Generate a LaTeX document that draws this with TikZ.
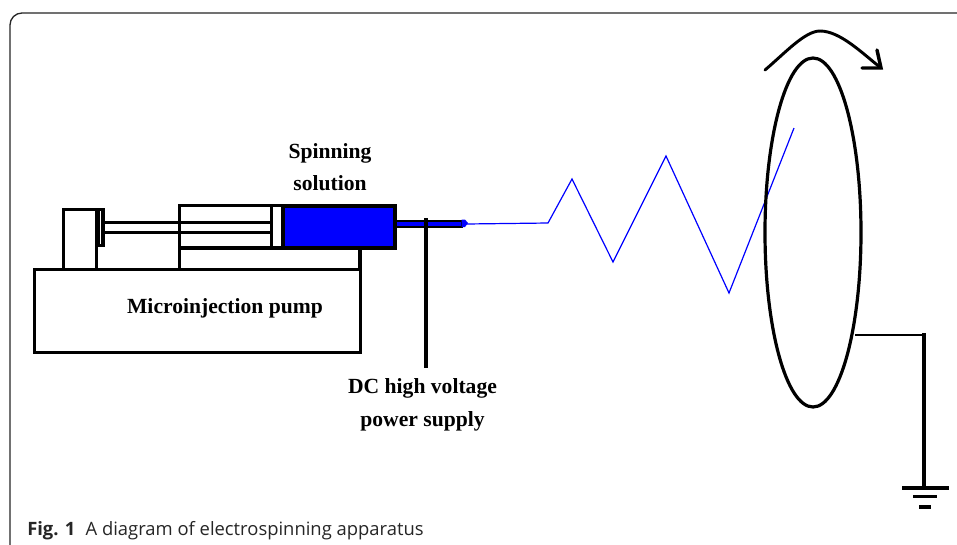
\documentclass[tikz,border=0pt]{standalone}
\usepackage{fontspec}
\setmainfont{Liberation Serif}
\newfontfamily\capfont{Open Sans}
\definecolor{pureblue}{RGB}{0,0,255}
\tikzset{
  px/.style={x=0.75pt,y=-0.75pt},
  part/.style={draw=black,line width=2.4pt},
  lab/.style={font=\bfseries\fontsize{16.2}{19}\selectfont,align=center,inner sep=0pt,text=black},
  fibre/.style={draw=pureblue,line width=0.9pt},
}
\begin{document}
\begin{tikzpicture}[px]
\useasboundingbox (0,0) rectangle (957,544);
\fill[white] (0,0) rectangle (957,544);
% frame
\draw[line width=1pt,black!85,rounded corners=9pt] (10,560) -- (10,13) -- (975,13);
% pump
\coordinate (c1) at (360,248);
\coordinate (c2) at (360,269);
\draw[part] (34.5,269.5) rectangle (360.5,352.5);
\draw[part] (c1) -- (c2);
\draw[part] (179.5,248) -- (179.5,269);
\draw[part] (63.5,269) -- (63.5,209.5) -- (103,209.5);
\draw[part] (96.5,209) -- (96.5,269);
\draw[part] (98.5,209.5) rectangle (103,245.5);
% rod and barrel
\draw[part] (179.5,205.5) rectangle (395,248);
\draw[part] (103,222.5) -- (271,222.5);
\draw[part] (103,232.5) -- (271,232.5);
\draw[part] (271.5,207) -- (271.5,247);
\draw[part,fill=pureblue] (283,206) rectangle (395,247.5);
% needle and fibre
\draw[fibre] (466,224) -- (548,223) -- (572,179) -- (613,262) -- (666,156) -- (729,293) -- (794,128);
\draw[draw=black,line width=1.5pt,fill=pureblue] (396,220.5) rectangle (461.5,226.5);
\fill[pureblue] (461.5,219.5) -- (465,219.5) -- (468,223) -- (465,227) -- (461.5,227) -- cycle;
% collector
\draw[part] (813,232.5) ellipse [x radius=48,y radius=174.5];
\draw[line width=2.2pt,line cap=round,line join=round] (765,70) .. controls (785,53) and (805,31) .. (820,31) .. controls (840,31) and (862,53) .. (881,68);
\draw[line width=2.6pt,line cap=round,line join=miter] (862,68) -- (881,68) -- (877,50);
% voltage lead
\coordinate (hv) at (426,218);
\draw[part] (hv) -- (426,368);
% ground
\coordinate (g0) at (855,334.5);
\draw[line width=1.5pt] (g0) -- (924,334.5);
\draw[part] (924,333) -- (924,488);
\draw[part] (902,488) -- (949,488);
\draw[part] (913,496.5) -- (937,496.5);
\draw[part] (919,507) -- (931,507);
% labels
\node[lab] (spin) at (330,167) {Spinning\\[4.8pt]solution};
\node[lab] (pump) at (225,308) {Microinjection pump};
\node[lab] (dc) at (422.5,405) {DC high voltage\\[5.5pt]power supply};
\node[anchor=base west,inner sep=0pt,font=\capfont\fontsize{13.8}{17}\selectfont,text=black!85] (cap) at (27,535) {\textbf{Fig. 1}\hspace{0.55em}A diagram of electrospinning apparatus};
\end{tikzpicture}
\end{document}
